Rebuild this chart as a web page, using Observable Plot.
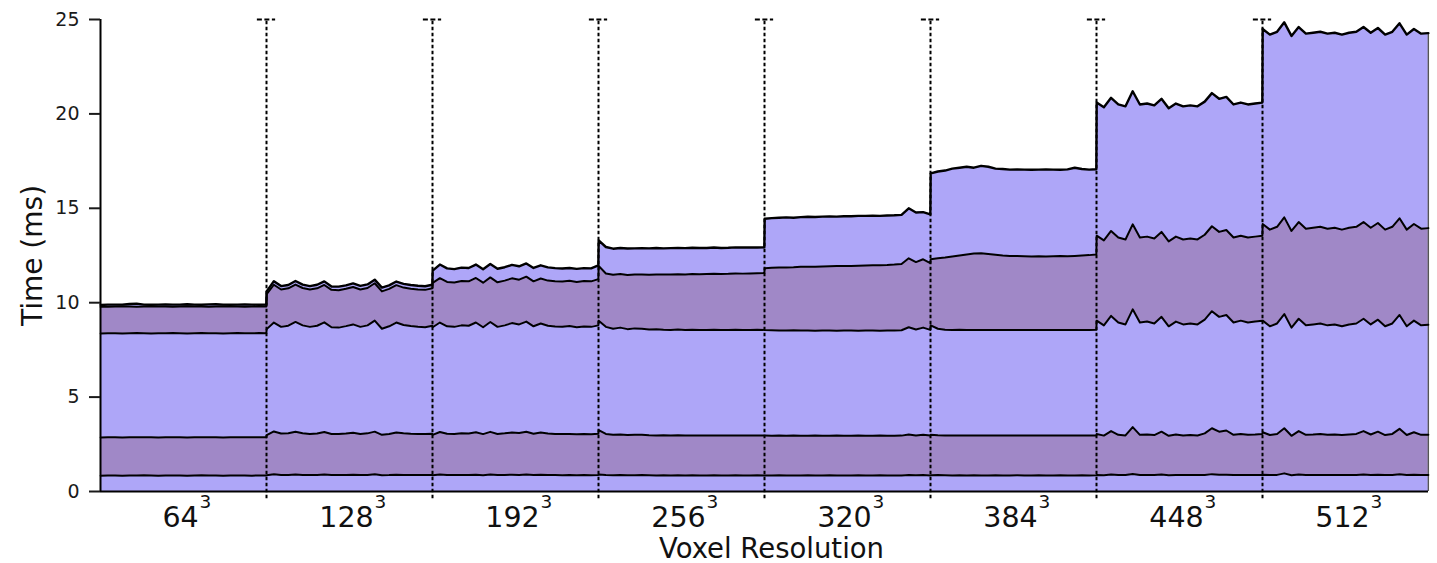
<!DOCTYPE html>
<html><head><meta charset="utf-8">
<script src="https://cdn.jsdelivr.net/npm/d3@7"></script>
<script src="https://cdn.jsdelivr.net/npm/@observablehq/plot@0.6"></script>
<style>
html,body{margin:0;padding:0;background:#fff;}
#chart svg{display:block;}
</style>
</head><body><div id="chart"></div>
<script>
// Voxel resolutions (x categories, rendered as N^3)
const resolutions = [64,128,192,256,320,384,448,512];
const yTicks = [0,5,10,15,20,25];
const xLabel = "Voxel Resolution";
const yLabel = "Time (ms)";

// Cumulative stage times (ms) – top edge of each stacked layer, 24 frames per resolution
const level1 = [
 [0.84,0.85,0.85,0.84,0.85,0.85,0.86,0.85,0.84,0.85,0.85,0.85,0.84,0.85,0.86,0.85,0.85,0.84,0.85,0.85,0.85,0.84,0.85,0.85],
 [0.86,0.91,0.88,0.88,0.9,0.88,0.87,0.88,0.9,0.87,0.87,0.88,0.89,0.87,0.88,0.91,0.86,0.87,0.89,0.88,0.88,0.87,0.87,0.88],
 [0.86,0.9,0.87,0.87,0.88,0.87,0.89,0.86,0.9,0.87,0.88,0.89,0.88,0.9,0.87,0.89,0.88,0.87,0.86,0.87,0.86,0.87,0.86,0.87],
 [0.9,0.87,0.86,0.87,0.86,0.86,0.87,0.86,0.85,0.86,0.85,0.86,0.85,0.86,0.85,0.85,0.86,0.85,0.85,0.86,0.85,0.85,0.86,0.85],
 [0.85,0.85,0.86,0.85,0.85,0.85,0.86,0.85,0.85,0.86,0.85,0.85,0.85,0.86,0.85,0.85,0.86,0.85,0.85,0.85,0.87,0.86,0.87,0.85],
 [0.86,0.87,0.86,0.85,0.86,0.85,0.86,0.85,0.85,0.86,0.85,0.85,0.86,0.85,0.85,0.86,0.85,0.85,0.86,0.85,0.85,0.86,0.85,0.86],
 [0.87,0.86,0.9,0.87,0.87,0.93,0.87,0.88,0.87,0.9,0.86,0.88,0.87,0.87,0.87,0.88,0.92,0.89,0.89,0.87,0.88,0.87,0.88,0.88],
 [0.89,0.87,0.88,0.96,0.86,0.9,0.87,0.88,0.88,0.87,0.88,0.87,0.88,0.88,0.9,0.87,0.89,0.87,0.88,0.91,0.87,0.89,0.87,0.88]
];
const level2 = [
 [2.86,2.87,2.87,2.86,2.87,2.87,2.88,2.87,2.86,2.87,2.87,2.87,2.86,2.87,2.88,2.87,2.87,2.86,2.87,2.87,2.88,2.87,2.87,2.87],
 [2.98,3.18,3.07,3.08,3.16,3.08,3.05,3.07,3.15,3.05,3.04,3.07,3.11,3.05,3.08,3.17,3.0,3.05,3.12,3.08,3.06,3.05,3.04,3.06],
 [3.0,3.15,3.06,3.05,3.08,3.07,3.14,3.04,3.16,3.05,3.08,3.13,3.1,3.16,3.06,3.12,3.07,3.05,3.04,3.05,3.03,3.04,3.03,3.06],
 [3.25,3.05,3.0,3.02,2.99,3.0,3.01,2.98,2.97,2.98,2.97,2.98,2.96,2.97,2.97,2.96,2.97,2.96,2.97,2.96,2.96,2.97,2.96,2.96],
 [2.96,2.95,2.96,2.95,2.96,2.95,2.95,2.96,2.95,2.95,2.96,2.95,2.95,2.96,2.95,2.95,2.96,2.95,2.95,2.96,3.02,2.97,3.0,2.96],
 [3.0,2.98,2.97,2.97,2.96,2.97,2.96,2.96,2.97,2.96,2.96,2.97,2.96,2.96,2.97,2.96,2.97,2.96,2.96,2.97,2.96,2.97,2.96,2.97],
 [3.05,2.96,3.2,3.0,2.97,3.41,3.0,3.02,2.99,3.17,2.95,3.02,2.97,2.99,2.97,3.08,3.35,3.17,3.23,3.0,3.05,3.0,3.02,3.05],
 [3.14,2.99,3.05,3.35,2.95,3.2,3.0,3.02,3.05,3.0,3.02,2.99,3.02,3.05,3.2,3.02,3.17,2.99,3.05,3.32,2.99,3.14,3.0,3.01]
];
const level3 = [
 [8.37,8.38,8.38,8.37,8.38,8.39,8.38,8.37,8.38,8.38,8.39,8.38,8.37,8.38,8.39,8.38,8.38,8.37,8.38,8.39,8.38,8.38,8.39,8.38],
 [8.6,8.95,8.72,8.78,8.98,8.8,8.72,8.78,8.96,8.7,8.68,8.76,8.85,8.72,8.8,9.05,8.62,8.75,8.95,8.82,8.76,8.72,8.7,8.78],
 [8.7,8.95,8.75,8.72,8.8,8.78,8.95,8.7,8.98,8.72,8.8,8.92,8.85,9.0,8.75,8.9,8.78,8.74,8.72,8.76,8.7,8.74,8.72,8.8],
 [9.05,8.72,8.62,8.68,8.6,8.64,8.62,8.58,8.6,8.57,8.56,8.58,8.56,8.57,8.56,8.55,8.57,8.56,8.55,8.57,8.56,8.56,8.57,8.56],
 [8.55,8.54,8.53,8.53,8.54,8.53,8.53,8.52,8.53,8.53,8.52,8.53,8.53,8.52,8.53,8.53,8.52,8.53,8.53,8.54,8.7,8.58,8.68,8.56],
 [8.8,8.62,8.57,8.56,8.57,8.56,8.55,8.56,8.55,8.56,8.55,8.56,8.55,8.56,8.55,8.56,8.55,8.56,8.55,8.56,8.55,8.56,8.56,8.57],
 [9.05,8.8,9.3,8.95,8.85,9.65,8.95,9.0,8.9,9.25,8.75,9.0,8.85,8.9,8.85,9.1,9.55,9.25,9.35,8.95,9.05,8.95,9.0,9.05],
 [9.05,8.75,8.9,9.4,8.68,9.15,8.8,8.85,8.9,8.8,8.85,8.75,8.85,8.9,9.15,8.85,9.1,8.75,8.9,9.35,8.75,9.05,8.8,8.83]
];
const level4 = [
 [9.78,9.79,9.8,9.81,9.8,9.79,9.8,9.81,9.8,9.8,9.79,9.8,9.81,9.8,9.8,9.79,9.8,9.81,9.8,9.8,9.79,9.8,9.8,9.8],
 [10.45,10.95,10.7,10.76,10.96,10.78,10.7,10.76,10.94,10.68,10.66,10.74,10.83,10.7,10.78,11.03,10.6,10.73,10.93,10.8,10.74,10.7,10.68,10.76],
 [11.05,11.3,11.1,11.07,11.15,11.13,11.31,11.06,11.34,11.08,11.17,11.29,11.22,11.38,11.13,11.28,11.17,11.13,11.12,11.16,11.1,11.15,11.13,11.25],
 [11.95,11.55,11.48,11.52,11.47,11.5,11.5,11.48,11.5,11.49,11.5,11.51,11.5,11.52,11.51,11.52,11.53,11.52,11.53,11.55,11.54,11.55,11.56,11.57],
 [11.82,11.85,11.86,11.87,11.88,11.9,11.9,11.91,11.92,11.93,11.94,11.94,11.95,11.96,11.97,11.98,11.99,12.0,12.02,12.05,12.35,12.15,12.3,12.1],
 [12.3,12.36,12.4,12.45,12.5,12.55,12.6,12.62,12.58,12.54,12.5,12.48,12.47,12.46,12.45,12.46,12.45,12.46,12.47,12.46,12.48,12.5,12.52,12.55],
 [13.55,13.3,13.8,13.45,13.35,14.15,13.45,13.5,13.4,13.75,13.25,13.5,13.35,13.4,13.35,13.6,14.05,13.75,13.85,13.45,13.55,13.45,13.5,13.55],
 [14.17,13.87,14.02,14.52,13.8,14.27,13.92,13.97,14.02,13.92,13.97,13.87,13.97,14.02,14.27,13.97,14.22,13.87,14.02,14.47,13.87,14.17,13.92,13.95]
];
const level5 = [
 [9.88,9.9,9.9,9.9,9.93,9.95,9.9,9.89,9.9,9.91,9.9,9.9,9.92,9.9,9.89,9.91,9.92,9.9,9.89,9.9,9.91,9.9,9.89,9.9],
 [10.6,11.14,10.88,10.94,11.15,10.96,10.88,10.95,11.13,10.86,10.85,10.92,11.02,10.89,10.97,11.22,10.8,10.92,11.12,11.0,10.94,10.9,10.87,10.95],
 [11.7,12.02,11.82,11.78,11.86,11.84,12.02,11.77,12.05,11.8,11.88,12.0,11.93,12.08,11.84,11.98,11.87,11.83,11.81,11.84,11.79,11.83,11.82,11.98],
 [13.3,12.95,12.86,12.9,12.87,12.88,12.89,12.88,12.9,12.88,12.89,12.9,12.89,12.91,12.9,12.9,12.92,12.9,12.91,12.93,12.92,12.93,12.92,12.93],
 [14.45,14.48,14.5,14.52,14.5,14.53,14.55,14.54,14.56,14.57,14.56,14.58,14.58,14.6,14.6,14.61,14.6,14.62,14.63,14.65,15.0,14.78,14.8,14.68],
 [16.85,16.95,17.0,17.1,17.15,17.2,17.15,17.25,17.2,17.1,17.08,17.05,17.06,17.05,17.04,17.05,17.06,17.05,17.04,17.06,17.15,17.08,17.05,17.07],
 [20.6,20.35,20.85,20.5,20.4,21.2,20.5,20.55,20.45,20.8,20.3,20.55,20.4,20.45,20.4,20.65,21.1,20.8,20.9,20.5,20.6,20.5,20.55,20.6],
 [24.5,24.2,24.35,24.85,24.13,24.6,24.25,24.3,24.35,24.25,24.3,24.2,24.3,24.35,24.6,24.3,24.55,24.2,24.35,24.8,24.2,24.5,24.25,24.28]
];

const layerFills = ["#aea6f8","#a088c7","#aea6f8","#a088c7","#aea6f8"];

// Build table: each frame sits within its resolution's band [s, s+1]
const levels = [level1, level2, level3, level4, level5];
const keys = ["c0","c1","c2","c3","c4","c5"];
const rows = [];
resolutions.forEach((r, s) => {
  const n = level1[s].length;
  for (let k = 0; k < n; k++) {
    const row = {x: s + 0.001 + (k / (n - 1)) * 0.998, c0: 0};
    levels.forEach((L, j) => { row[keys[j + 1]] = L[s][k]; });
    rows.push(row);
  }
});
const boundaries = resolutions.slice(1).map((_, i) => i + 1);
const labelRows = resolutions.map((r, i) => ({pos: i + 0.5, text: String(r)}));

const marks = [];
for (let i = 1; i <= 5; i++) {
  marks.push(Plot.areaY(rows, {x: "x", y1: keys[i - 1], y2: keys[i], fill: layerFills[i - 1]}));
}
marks.push(Plot.ruleX(rows.slice(-1), {x: "x", y1: 0, y2: "c5", stroke: "#555", strokeWidth: 1.4}));
for (let i = 1; i <= 5; i++) {
  marks.push(Plot.lineY(rows, {x: "x", y: keys[i], stroke: "#000", strokeWidth: i === 5 ? 2.4 : 2.0, strokeLinejoin: "round"}));
}
// separators between resolutions
marks.push(Plot.ruleX(boundaries, {x: d => d, y1: -0.38, y2: 25, stroke: "#000", strokeWidth: 2, strokeDasharray: "3.5,2.5"}));
marks.push(Plot.ruleY(boundaries, {x1: d => d - 0.055, x2: d => d + 0.055, y: 25, stroke: "#000", strokeWidth: 2, strokeDasharray: "5,2.5"}));
// spines
marks.push(Plot.ruleX([0], {y1: 0, y2: 25, stroke: "#000", strokeWidth: 2}));
marks.push(Plot.ruleY([0], {stroke: "#000", strokeWidth: 2}));
// y axis
marks.push(Plot.axisY(yTicks, {tickSize: 11, tickPadding: 10, fontSize: 19, strokeWidth: 2, color: "#1a1a1a", label: null, tickFormat: d => String(d)}));
// x tick labels N^3
marks.push(Plot.text(labelRows, {x: "pos", text: "text", frameAnchor: "bottom", lineAnchor: "bottom", dy: 35, dx: -3, fontSize: 28.5, fill: "#111"}));
marks.push(Plot.text(labelRows.filter(d => d.text.length === 2), {x: "pos", text: () => "3", frameAnchor: "bottom", lineAnchor: "bottom", textAnchor: "start", dy: 16, dx: 16, fontSize: 18.5, fill: "#111"}));
marks.push(Plot.text(labelRows.filter(d => d.text.length === 3), {x: "pos", text: () => "3", frameAnchor: "bottom", lineAnchor: "bottom", textAnchor: "start", dy: 16, dx: 25, fontSize: 18.5, fill: "#111"}));
// axis titles
marks.push(Plot.text([xLabel], {text: d => d, frameAnchor: "bottom", textAnchor: "middle", lineAnchor: "middle", dy: 58, dx: 7, fontSize: 27.5, fill: "#111"}));
marks.push(Plot.text([yLabel], {text: d => d, frameAnchor: "left", textAnchor: "middle", rotate: -90, lineAnchor: "middle", dx: -67, fontSize: 28, fill: "#111"}));

const chart = Plot.plot({
  width: 1437,
  height: 563,
  marginLeft: 100,
  marginRight: 9,
  marginTop: 19,
  marginBottom: 72,
  style: {fontFamily: "'DejaVu Sans', sans-serif", background: "#fff", overflow: "visible"},
  x: {domain: [0, 8], axis: null},
  y: {domain: [0, 25]},
  marks
});
document.getElementById("chart").appendChild(chart);
</script>
</body></html>
